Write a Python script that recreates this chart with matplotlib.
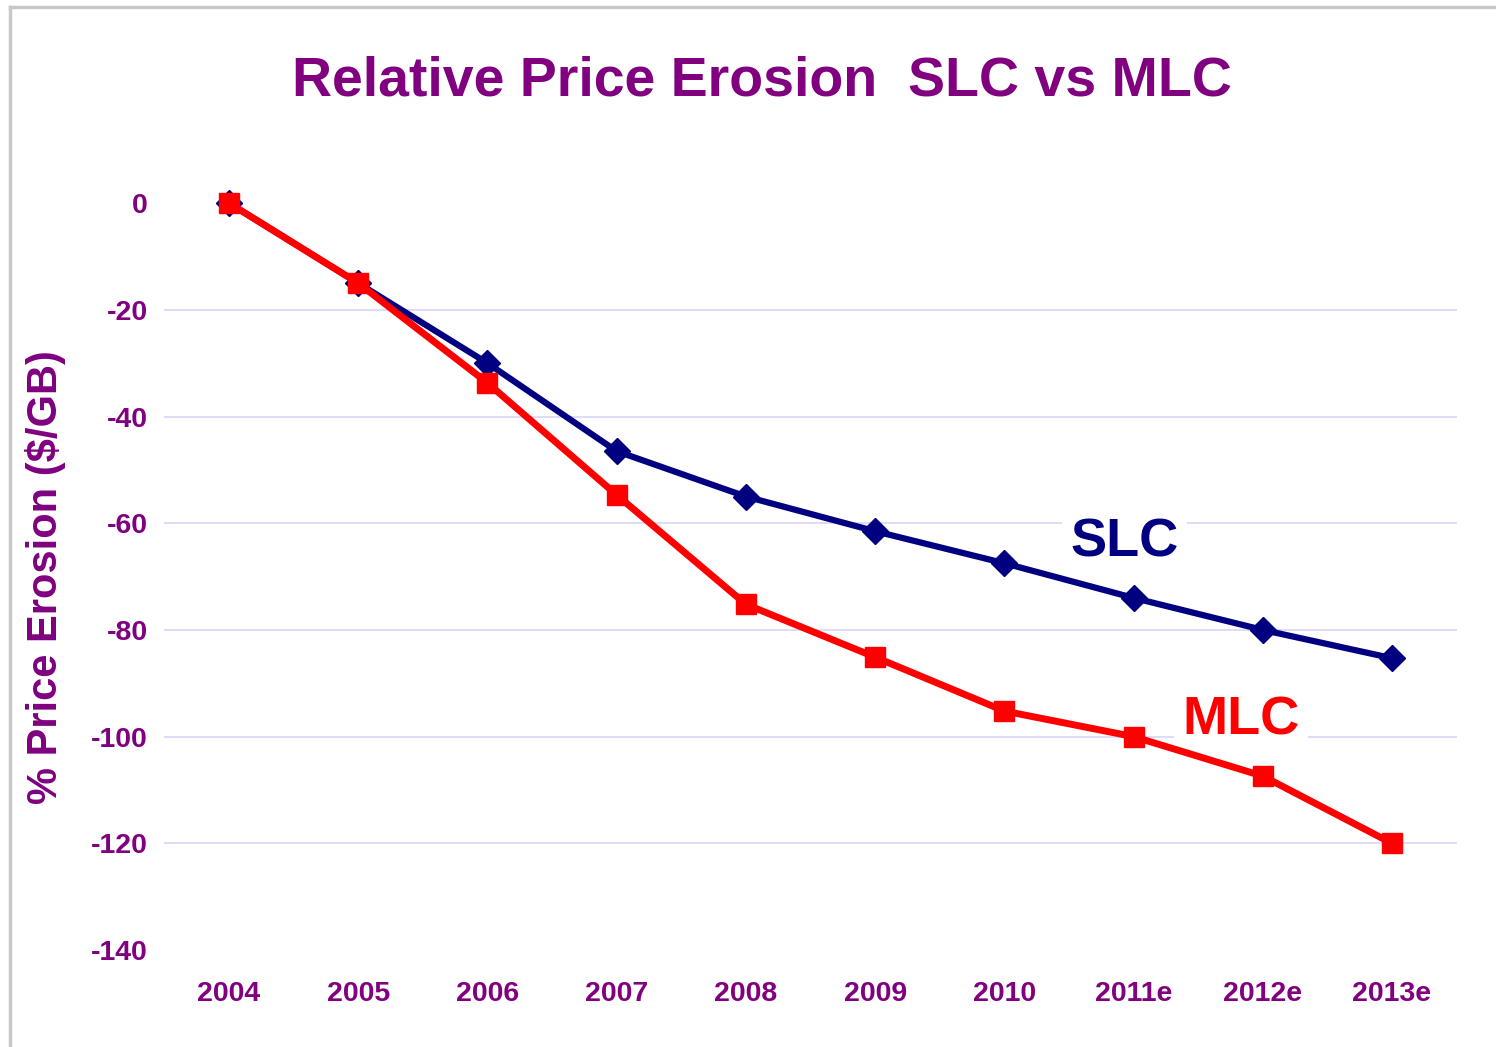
import matplotlib
matplotlib.use("Agg")
import matplotlib.pyplot as plt
from matplotlib.lines import Line2D

plt.rcParams["font.family"] = ["Liberation Sans", "DejaVu Sans"]
plt.rcParams["font.weight"] = "bold"

years = ["2004", "2005", "2006", "2007", "2008", "2009", "2010", "2011e", "2012e", "2013e"]
slc = [0, -15, -30, -46.5, -55, -61.5, -67.5, -74, -80, -85.3]
mlc = [0, -15, -33.7, -54.7, -75.2, -85.1, -95.2, -100, -107.4, -120]
yticks = [0, -20, -40, -60, -80, -100, -120, -140]

PURPLE = "#800080"
NAVY = "#000080"
RED = "#FF0000"

fig = plt.figure(figsize=(14.96, 10.47), dpi=100)
ax = fig.add_axes([0.1099, 0.0926, 0.8638, 0.7134])

x = list(range(len(years)))
ax.plot(x, slc, color=NAVY, lw=4.5, marker="D", ms=13, clip_on=False, zorder=3)
ax.plot(x, mlc, color=RED, lw=5, marker="s", ms=14, clip_on=False, zorder=4)

ax.set_xlim(-0.5, len(years) - 0.5)
ax.set_ylim(-140, 0)
ax.set_yticks(yticks)
ax.set_yticklabels([str(v) for v in yticks], color=PURPLE, fontsize=20.5, fontweight="bold")
ax.set_xticks(x)
ax.set_xticklabels(years, color=PURPLE, fontsize=20.5, fontweight="bold")
ax.tick_params(length=0, axis="y", pad=12)
ax.tick_params(length=0, axis="x", pad=22)
# gridlines only between the ends (none at 0 or -140)
for v in yticks[1:-1]:
    ax.axhline(v, color="#DADAFA", lw=1.3, zorder=0)
for s in ax.spines.values():
    s.set_visible(False)

ax.set_ylabel("% Price Erosion ($/GB)", color=PURPLE, fontsize=30, fontweight="bold",
              va="center")
ax.yaxis.set_label_coords(-0.092, 0.5)

ax.text(6.93, -63.7, "SLC", color=NAVY, fontsize=39, fontweight="bold", ha="center", va="center",
        bbox=dict(facecolor="white", edgecolor="none", pad=6), zorder=2)
ax.text(7.83, -96.9, "MLC", color=RED, fontsize=39, fontweight="bold", ha="center", va="center",
        bbox=dict(facecolor="white", edgecolor="none", pad=6), zorder=2)

fig.text(0.509, 0.922, "Relative Price Erosion  SLC vs MLC", color=PURPLE, fontsize=40,
         fontweight="bold", ha="center", va="center")

# slide frame (left and top edges)
fig.add_artist(Line2D([0.0067, 0.0067], [0, 0.9933], transform=fig.transFigure, color="#C8C8C8", lw=2.5))
fig.add_artist(Line2D([0.0067, 1.0], [0.9933, 0.9933], transform=fig.transFigure, color="#C8C8C8", lw=2.5))

fig.savefig("out.png", dpi=100)
